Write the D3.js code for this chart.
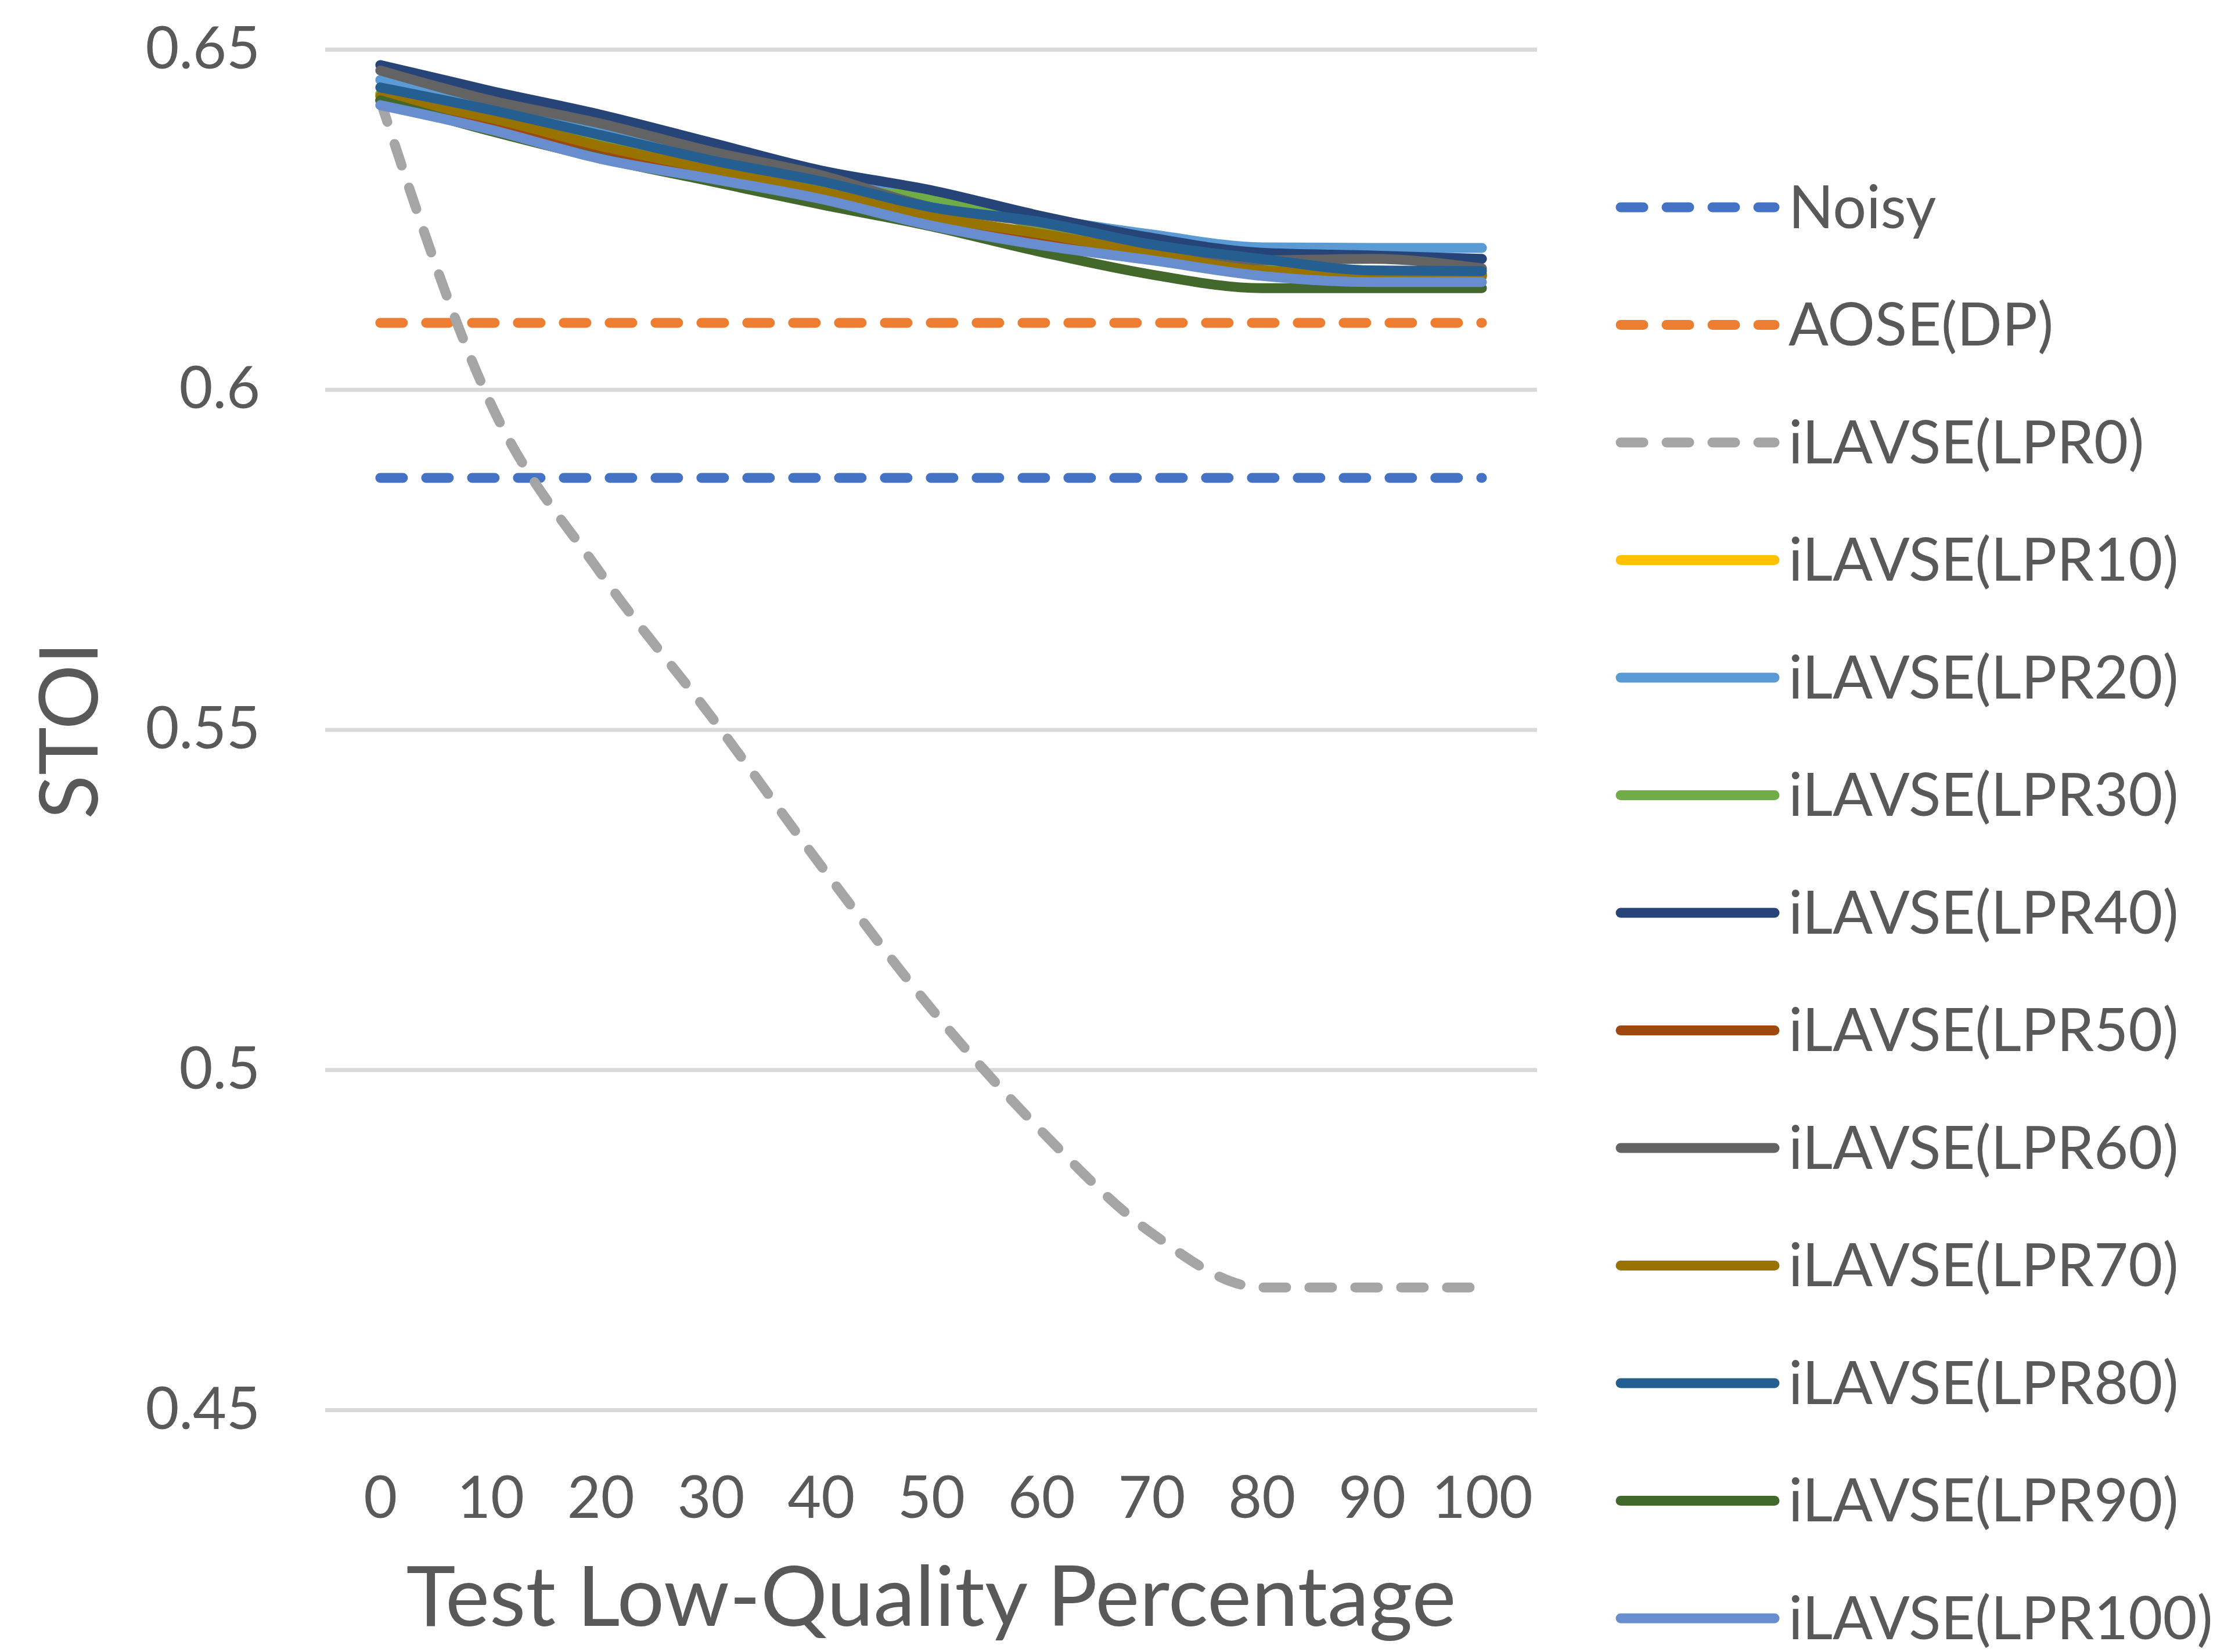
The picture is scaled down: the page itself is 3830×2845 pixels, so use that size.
<!DOCTYPE html>
<html>
<head>
<meta charset="utf-8">
<script src="https://cdn.jsdelivr.net/npm/d3@7"></script>
<style>
    html, body { margin: 0; padding: 0; background: #ffffff; }
    svg text { font-family: Lato, "Open Sans", sans-serif; fill: #595959; }
</style>
</head>
<body>
<svg id="chart" width="3830" height="2845"></svg>
<script>
// x categories (test low-quality percentage)
const categories = [0, 10, 20, 30, 40, 50, 60, 70, 80, 90, 100];
const yTicks = [0.45, 0.5, 0.55, 0.6, 0.65];

// STOI per series
const noisy   = [0.587, 0.587, 0.587, 0.587, 0.587, 0.587, 0.587, 0.587, 0.587, 0.587, 0.587];
const aoseDP  = [0.6098, 0.6098, 0.6098, 0.6098, 0.6098, 0.6098, 0.6098, 0.6098, 0.6098, 0.6098, 0.6098];
const lpr0    = [0.6425, 0.598, 0.573, 0.552, 0.530, 0.509, 0.491, 0.476, 0.468, 0.468, 0.468];
const lpr10   = [0.6433, 0.6400, 0.6360, 0.6325, 0.6290, 0.6255, 0.6228, 0.6202, 0.6178, 0.6170, 0.6168];
const lpr20   = [0.6455, 0.6418, 0.6380, 0.6345, 0.6310, 0.6280, 0.6252, 0.6228, 0.6209, 0.6208, 0.6208];
const lpr30   = [0.6435, 0.6400, 0.6365, 0.6330, 0.6295, 0.6283, 0.6240, 0.6210, 0.6180, 0.6175, 0.6170];
const lpr40   = [0.6477, 0.6439, 0.6404, 0.6363, 0.6322, 0.6293, 0.6255, 0.6223, 0.6201, 0.6197, 0.6192];
const lpr50   = [0.6425, 0.6393, 0.6350, 0.6318, 0.6288, 0.6255, 0.6225, 0.6200, 0.6175, 0.6168, 0.6168];
const lpr60   = [0.6469, 0.6425, 0.6391, 0.6350, 0.6315, 0.6268, 0.6245, 0.6213, 0.6190, 0.6192, 0.6178];
const lpr70   = [0.6431, 0.6399, 0.6358, 0.6324, 0.6291, 0.6254, 0.6229, 0.6200, 0.6175, 0.6171, 0.6166];
const lpr80   = [0.6444, 0.6411, 0.6374, 0.6337, 0.6306, 0.6268, 0.6246, 0.6213, 0.6192, 0.6175, 0.6174];
const lpr90   = [0.6425, 0.6380, 0.6340, 0.6306, 0.6272, 0.6240, 0.6202, 0.6169, 0.6149, 0.6149, 0.6149];
const lpr100  = [0.6418, 0.6382, 0.6339, 0.6310, 0.6280, 0.6241, 0.6212, 0.6190, 0.6167, 0.6158, 0.6158];

const series = [
    { name: 'Noisy',          values: noisy,  color: '#4472C4', dashed: true },
    { name: 'AOSE(DP)',       values: aoseDP, color: '#ED7D31', dashed: true },
    { name: 'iLAVSE(LPR0)',   values: lpr0,   color: '#A5A5A5', dashed: true },
    { name: 'iLAVSE(LPR10)',  values: lpr10,  color: '#FFC000' },
    { name: 'iLAVSE(LPR20)',  values: lpr20,  color: '#5B9BD5' },
    { name: 'iLAVSE(LPR30)',  values: lpr30,  color: '#70AD47' },
    { name: 'iLAVSE(LPR40)',  values: lpr40,  color: '#264478' },
    { name: 'iLAVSE(LPR50)',  values: lpr50,  color: '#9E480E' },
    { name: 'iLAVSE(LPR60)',  values: lpr60,  color: '#636363' },
    { name: 'iLAVSE(LPR70)',  values: lpr70,  color: '#997300' },
    { name: 'iLAVSE(LPR80)',  values: lpr80,  color: '#255E91' },
    { name: 'iLAVSE(LPR90)',  values: lpr90,  color: '#43682B' },
    { name: 'iLAVSE(LPR100)', values: lpr100, color: '#698ED0' }
];

const plot = { left: 560, right: 2647, top: 85, bottom: 2428 };
const lineWidth = 17;
const dash = '39,40';

const svg = d3.select('#chart');

svg.append('rect')
    .attr('width', 3830)
    .attr('height', 2845)
    .attr('fill', '#ffffff');

const x = d3.scalePoint()
    .domain(categories)
    .range([plot.left, plot.right])
    .padding(0.5);

const y = d3.scaleLinear()
    .domain([0.45, 0.65])
    .range([plot.bottom, plot.top]);

// y axis with gridlines
const yAxis = svg.append('g')
    .attr('transform', `translate(${plot.left},0)`)
    .call(d3.axisLeft(y)
        .tickValues(yTicks)
        .tickFormat(d => String(d))
        .tickSizeInner(-(plot.right - plot.left))
        .tickSizeOuter(0)
        .tickPadding(112));
yAxis.select('.domain').remove();
yAxis.selectAll('.tick line')
    .attr('stroke', '#d9d9d9')
    .attr('stroke-width', 7);
yAxis.selectAll('.tick text')
    .attr('font-size', 100)
    .attr('fill', '#595959');

// x axis, labels only
const xAxis = svg.append('g')
    .attr('transform', `translate(0,${plot.bottom})`)
    .call(d3.axisBottom(x)
        .tickSize(0)
        .tickPadding(115));
xAxis.select('.domain').remove();
xAxis.selectAll('.tick text')
    .attr('font-size', 100)
    .attr('fill', '#595959');

// axis titles
svg.append('text')
    .attr('x', (plot.left + plot.right) / 2)
    .attr('y', 2800)
    .attr('text-anchor', 'middle')
    .attr('font-size', 144)
    .text('Test Low-Quality Percentage');

svg.append('text')
    .attr('transform', 'translate(168,1258) rotate(-90)')
    .attr('text-anchor', 'middle')
    .attr('font-size', 140)
    .text('STOI');

// series lines, later ones on top
const line = d3.line()
    .x((d, i) => x(categories[i]))
    .y(d => y(d))
    .curve(d3.curveMonotoneX);

svg.append('g')
    .selectAll('path')
    .data(series)
    .join('path')
    .attr('d', d => line(d.values))
    .attr('fill', 'none')
    .attr('stroke', d => d.color)
    .attr('stroke-width', lineWidth)
    .attr('stroke-linecap', 'round')
    .attr('stroke-linejoin', 'round')
    .attr('stroke-dasharray', d => d.dashed ? dash : null);

// legend
const legend = svg.append('g')
    .selectAll('g')
    .data(series)
    .join('g')
    .attr('transform', (d, i) => `translate(0,${357 + i * 202.5})`);

legend.append('line')
    .attr('x1', 2791)
    .attr('x2', 3056)
    .attr('stroke', d => d.color)
    .attr('stroke-width', lineWidth)
    .attr('stroke-linecap', 'round')
    .attr('stroke-dasharray', d => d.dashed ? dash : null);

legend.append('text')
    .attr('x', 3080)
    .attr('dy', '0.35em')
    .attr('font-size', 102)
    .text(d => d.name);
</script>
</body>
</html>
